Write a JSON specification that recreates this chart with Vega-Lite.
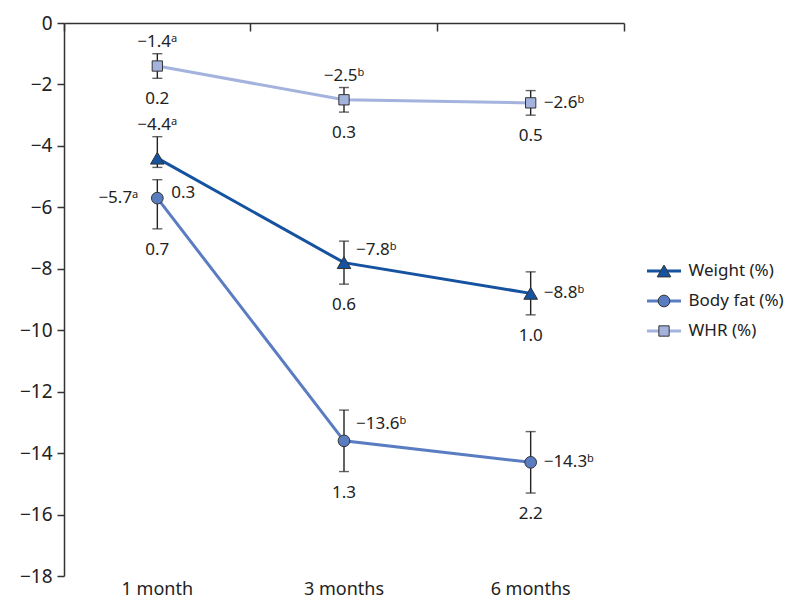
{
  "$schema": "https://vega.github.io/schema/vega-lite/v6.json",
  "width": 560,
  "height": 553,
  "autosize": "none",
  "padding": {"left": 64, "top": 23, "right": 171, "bottom": 24},
  "config": {
    "view": {"stroke": null},
    "font": "Noto Sans",
    "text": {"font": "Noto Sans", "fontSize": 17, "color": "#222222"}
  },
  "data": {
    "values": [
      {"series": "Weight (%)", "time": "1 month", "value": -4.4, "lower": -4.7, "upper": -3.7, "lab": "−4.4ᵃ", "sd": "0.3"},
      {"series": "Weight (%)", "time": "3 months", "value": -7.8, "lower": -8.5, "upper": -7.1, "lab": "−7.8ᵇ", "sd": "0.6"},
      {"series": "Weight (%)", "time": "6 months", "value": -8.8, "lower": -9.5, "upper": -8.1, "lab": "−8.8ᵇ", "sd": "1.0"},
      {"series": "Body fat (%)", "time": "1 month", "value": -5.7, "lower": -6.7, "upper": -5.1, "lab": "−5.7ᵃ", "sd": "0.7"},
      {"series": "Body fat (%)", "time": "3 months", "value": -13.6, "lower": -14.6, "upper": -12.6, "lab": "−13.6ᵇ", "sd": "1.3"},
      {"series": "Body fat (%)", "time": "6 months", "value": -14.3, "lower": -15.3, "upper": -13.3, "lab": "−14.3ᵇ", "sd": "2.2"},
      {"series": "WHR (%)", "time": "1 month", "value": -1.4, "lower": -1.8, "upper": -1.0, "lab": "−1.4ᵃ", "sd": "0.2"},
      {"series": "WHR (%)", "time": "3 months", "value": -2.5, "lower": -2.9, "upper": -2.1, "lab": "−2.5ᵇ", "sd": "0.3"},
      {"series": "WHR (%)", "time": "6 months", "value": -2.6, "lower": -3.0, "upper": -2.2, "lab": "−2.6ᵇ", "sd": "0.5"}
    ]
  },
  "layer": [
    {
      "mark": {"type": "line", "strokeWidth": 3},
      "encoding": {
        "x": {
          "field": "time", "type": "nominal", "title": null,
          "scale": {"type": "band", "domain": ["1 month", "3 months", "6 months"], "paddingInner": 0, "paddingOuter": 0},
          "axis": {"orient": "top", "labels": false, "domain": true, "domainColor": "#333333", "domainWidth": 1.5, "ticks": true, "tickSize": -8, "tickColor": "#333333", "tickWidth": 1.5, "bandPosition": 1, "tickExtra": true, "grid": false, "title": null}
        },
        "y": {
          "field": "value", "type": "quantitative", "title": null,
          "scale": {"domain": [-18, 0], "nice": false, "zero": false},
          "axis": {"orient": "left", "values": [0, -2, -4, -6, -8, -10, -12, -14, -16, -18], "domainColor": "#333333", "domainWidth": 1.5, "tickColor": "#333333", "tickWidth": 1.5, "tickSize": 7, "labelFontSize": 19, "labelColor": "#222222", "labelPadding": 5, "grid": false, "title": null}
        },
        "color": {
          "field": "series", "type": "nominal",
          "scale": {"domain": ["Weight (%)", "Body fat (%)", "WHR (%)"], "range": ["#15529f", "#5a7dc2", "#a4b3de"]},
          "legend": {"orient": "none", "legendX": 581.5, "legendY": 234, "title": null, "padding": 0, "symbolType": "stroke", "symbolSize": 1156, "symbolStrokeWidth": 3, "labelFontSize": 17, "labelColor": "#222222", "labelOffset": 6, "clipHeight": 28, "rowPadding": 2}
        }
      }
    },
    {
      "mark": {"type": "errorbar", "ticks": {"size": 10, "thickness": 1.4, "color": "#222222"}, "rule": {"color": "#222222", "strokeWidth": 1.4}},
      "encoding": {
        "x": {"field": "time", "type": "nominal", "title": null, "axis": null},
        "y": {"field": "lower", "type": "quantitative", "title": null},
        "y2": {"field": "upper"}
      }
    },
    {
      "mark": {"type": "point", "filled": true, "size": 140, "stroke": "#333333", "strokeWidth": 1, "opacity": 1},
      "encoding": {
        "x": {
          "field": "time", "type": "nominal", "title": null,
          "axis": {"orient": "bottom", "domain": false, "ticks": false, "labelPadding": 4, "labelFontSize": 18, "labelColor": "#222222", "labelAngle": 0, "grid": false, "title": null}
        },
        "y": {"field": "value", "type": "quantitative", "title": null},
        "color": {
          "field": "series", "type": "nominal",
          "scale": {"domain": ["Weight (%)", "Body fat (%)", "WHR (%)"], "range": ["#15529f", "#5a7dc2", "#a4b3de"]},
          "legend": {"orient": "none", "legendX": 591.5, "legendY": 234, "title": null, "padding": 0, "symbolSize": 140, "symbolStrokeColor": "#333333", "symbolStrokeWidth": 1, "labelFontSize": 17, "labelOpacity": 0, "labelExpr": "''", "clipHeight": 28, "rowPadding": 2}
        },
        "shape": {
          "field": "series", "type": "nominal",
          "scale": {"domain": ["Weight (%)", "Body fat (%)", "WHR (%)"], "range": ["M0,-1L1.15,1L-1.15,1Z", "M-0.99,0A0.99,0.99 0 1,0 0.99,0A0.99,0.99 0 1,0 -0.99,0Z", "M-0.87,-0.87H0.87V0.87H-0.87Z"]},
          "legend": {"orient": "none", "legendX": 591.5, "legendY": 234, "title": null, "padding": 0, "symbolSize": 140, "symbolStrokeColor": "#333333", "symbolStrokeWidth": 1, "labelFontSize": 17, "labelOpacity": 0, "labelExpr": "''", "clipHeight": 28, "rowPadding": 2}
        }
      }
    },
    {
      "transform": [{"filter": "!(datum.series === 'Weight (%)' && datum.time === '1 month')"}],
      "mark": {"type": "text", "dy": 21},
      "encoding": {
        "x": {"field": "time", "type": "nominal", "axis": null},
        "y": {"field": "lower", "type": "quantitative", "title": null},
        "text": {"field": "sd"}
      }
    },
    {
      "transform": [{"filter": "datum.series === 'Weight (%)' && datum.time === '1 month'"}],
      "mark": {"type": "text", "align": "left", "dx": 14, "dy": 35},
      "encoding": {
        "x": {"field": "time", "type": "nominal", "axis": null},
        "y": {"field": "value", "type": "quantitative", "title": null},
        "text": {"field": "sd"}
      }
    },
    {
      "transform": [{"filter": "(datum.time === '1 month' && datum.series !== 'Body fat (%)') || (datum.series === 'WHR (%)' && datum.time === '3 months')"}],
      "mark": {"type": "text", "dy": -12},
      "encoding": {
        "x": {"field": "time", "type": "nominal", "axis": null},
        "y": {"field": "upper", "type": "quantitative", "title": null},
        "text": {"field": "lab"}
      }
    },
    {
      "transform": [{"filter": "datum.time === '6 months'"}],
      "mark": {"type": "text", "align": "left", "dx": 13},
      "encoding": {
        "x": {"field": "time", "type": "nominal", "axis": null},
        "y": {"field": "value", "type": "quantitative", "title": null},
        "text": {"field": "lab"}
      }
    },
    {
      "transform": [{"filter": "datum.series === 'Weight (%)' && datum.time === '3 months'"}],
      "mark": {"type": "text", "align": "left", "dx": 12, "dy": -13},
      "encoding": {
        "x": {"field": "time", "type": "nominal", "axis": null},
        "y": {"field": "value", "type": "quantitative", "title": null},
        "text": {"field": "lab"}
      }
    },
    {
      "transform": [{"filter": "datum.series === 'Body fat (%)' && datum.time === '3 months'"}],
      "mark": {"type": "text", "align": "left", "dx": 12, "dy": -17},
      "encoding": {
        "x": {"field": "time", "type": "nominal", "axis": null},
        "y": {"field": "value", "type": "quantitative", "title": null},
        "text": {"field": "lab"}
      }
    },
    {
      "transform": [{"filter": "datum.series === 'Body fat (%)' && datum.time === '1 month'"}],
      "mark": {"type": "text", "align": "right", "dx": -19},
      "encoding": {
        "x": {"field": "time", "type": "nominal", "axis": null},
        "y": {"field": "value", "type": "quantitative", "title": null},
        "text": {"field": "lab"}
      }
    }
  ],
  "resolve": {"axis": {"x": "independent"}, "legend": {"color": "independent", "shape": "independent"}}
}
